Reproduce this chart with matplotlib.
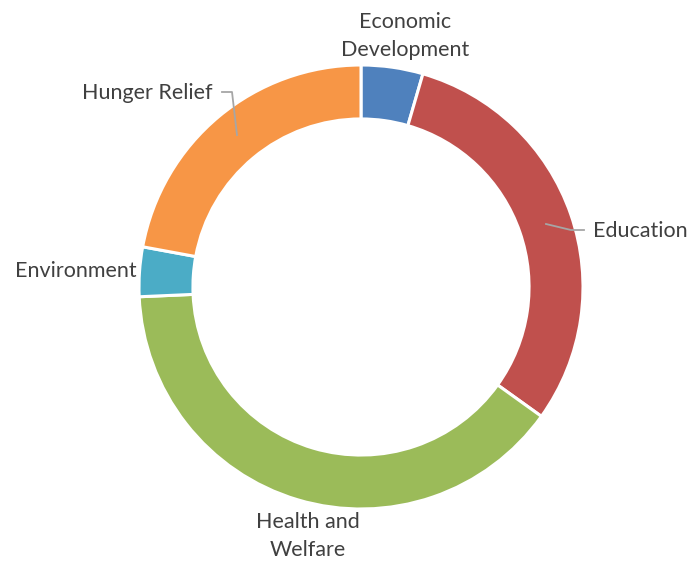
import matplotlib.pyplot as plt

# share of giving by category (percent)
categories = ['Economic\nDevelopment', 'Education', 'Health and\nWelfare', 'Environment', 'Hunger Relief']
shares = [4.5, 30.4, 39.4, 3.6, 22.1]
colors = ['#4F81BD', '#C0504D', '#9BBB59', '#4BACC6', '#F79646']

W, H = 694, 565
cx, cy, R = 361, 287, 222


def px(x, y):
    # pixel position -> data coords (radius 1 = outer ring)
    return (x - cx) / R, (cy - y) / R


fig = plt.figure(figsize=(W / 100, H / 100), dpi=100)
ax = fig.add_axes([0, 0, 1, 1])

ax.pie(shares, colors=colors, startangle=90, counterclock=False, radius=1,
       wedgeprops=dict(width=0.243, edgecolor='white', linewidth=2.2))

ax.set_xlim(-cx / R, (W - cx) / R)
ax.set_ylim(-(H - cy) / R, cy / R)
ax.set_aspect('equal')
ax.axis('off')

txt = dict(color='#404040', fontsize=15.5, family='Lato', linespacing=1.47)
ax.text(*px(405, 36), categories[0], ha='center', va='center', **txt)
ax.text(*px(593, 231), categories[1], ha='left', va='center', **txt)
ax.text(*px(308, 536), categories[2], ha='center', va='center', **txt)
ax.text(*px(137, 271), categories[3], ha='right', va='center', **txt)
ax.text(*px(213, 93), categories[4], ha='right', va='center', **txt)

# leader lines
lc = '#A6A6A6'
pts = [px(222, 92), px(232, 92), px(237, 135)]
ax.plot([p[0] for p in pts], [p[1] for p in pts], color=lc, lw=1.3)
pts = [px(546, 224), px(571, 230), px(584, 230)]
ax.plot([p[0] for p in pts], [p[1] for p in pts], color=lc, lw=1.3)

fig.savefig('out.png', dpi=100)
